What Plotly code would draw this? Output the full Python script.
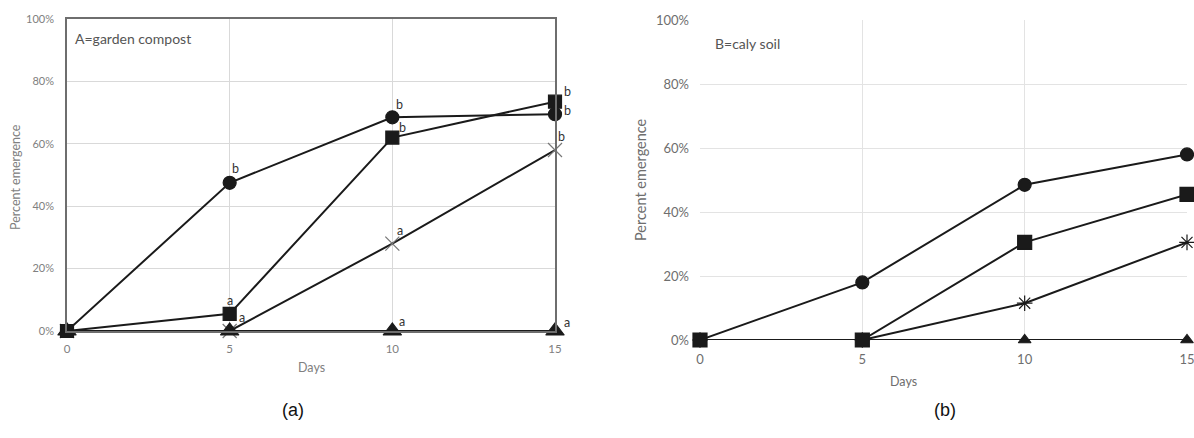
import plotly.graph_objects as go

days = [0, 5, 10, 15]
y_ticks = [0, 0.2, 0.4, 0.6, 0.8, 1.0]
y_tick_labels = ["0%", "20%", "40%", "60%", "80%", "100%"]
x_ticks = [0, 5, 10, 15]

# Panel A = garden compost
a_circle = [0.0, 0.475, 0.685, 0.695]
a_square = [0.0, 0.055, 0.62, 0.735]
a_cross = [0.0, 0.0, 0.28, 0.58]
a_triangle = [0.0, 0.0, 0.0, 0.0]

# significance letters for panel A, attached to the data point they label
a_letters_x = [5, 10, 15, 15, 10, 5, 5, 10, 15, 10, 15]
a_letters_y = [0.475, 0.685, 0.695, 0.735, 0.62, 0.055, 0.0, 0.28, 0.58, 0.0, 0.0]
a_letters = ["b", "b", "b", "b", "b", "a", "a", "a", "b", "a", "a"]

# Panel B = caly soil
b_circle = [0.0, 0.18, 0.485, 0.58]
b_square = [0.0, 0.0, 0.305, 0.455]
b_star = [0.0, 0.0, 0.115, 0.305]
b_triangle = [0.0, 0.0, 0.0, 0.0]

LINE = "#1a1a1a"
FONT = "Lato"
W, H = 1194, 438

# pixel offsets of each letter from its point
letter_dx = [6, 7, 12, 12, 10, 0, 12, 8, 6, 10, 12]
letter_dy = [14, 13, 4, 10, 10, 13, 14, 13, 14, 10, 9]

fig = go.Figure()

def add(xa, ya, ys, symbol, size, mcolor=LINE, lw=2):
    fig.add_trace(go.Scatter(
        x=days, y=ys, xaxis=xa, yaxis=ya, mode="lines+markers",
        line=dict(color=LINE, width=lw),
        marker=dict(symbol=symbol, size=size, color=mcolor,
                    line=dict(color=mcolor, width=1.2)),
        cliponaxis=False, showlegend=False))

# panel A
add("x", "y", a_cross, "x-thin-open", 14, mcolor="#777777")
add("x", "y", a_circle, "circle", 13)
add("x", "y", a_square, "square", 13)
add("x", "y", a_triangle, "triangle-up", 16)

# panel B
add("x2", "y2", b_triangle, "triangle-up", 11)
add("x2", "y2", b_star, "asterisk-open", 13)
add("x2", "y2", b_circle, "circle", 13)
add("x2", "y2", b_square, "square", 14)

annotations = []
for lx, ly, t, dx, dy in zip(a_letters_x, a_letters_y, a_letters, letter_dx, letter_dy):
    annotations.append(dict(x=lx, y=ly, xref="x", yref="y", text=t, showarrow=False,
                            xshift=dx, yshift=dy,
                            font=dict(family=FONT, size=12.5, color="#333333")))

def ptext(px, py, text, size, color, family=FONT, angle=0, xanchor="center"):
    annotations.append(dict(x=px / W, y=1 - py / H, xref="paper", yref="paper", text=text,
                            showarrow=False, textangle=angle, xanchor=xanchor,
                            yanchor="middle", font=dict(family=family, size=size, color=color)))

ptext(73, 38, "A=garden compost", 14, "#555555", xanchor="left")
ptext(713, 43, "B=caly soil", 14, "#555555", xanchor="left")
ptext(15, 177, "Percent emergence", 12.5, "#808080", angle=-90)
ptext(311, 367, "Days", 12.5, "#808080")
ptext(640, 180, "Percent emergence", 14.5, "#6e6e6e", angle=-90)
ptext(903, 381, "Days", 12.5, "#6e6e6e")
ptext(293, 410, "(a)", 18, "#111111", family="Liberation Sans")
ptext(945, 410, "(b)", 18, "#111111", family="Liberation Sans")

fig.update_layout(
    width=W, height=H,
    margin=dict(l=0, r=0, t=0, b=0),
    paper_bgcolor="white", plot_bgcolor="white",
    annotations=annotations,
    xaxis=dict(domain=[67 / W, 555 / W], range=[0, 15], tickvals=x_ticks,
               showgrid=True, gridcolor="#d9d9d9", gridwidth=1, zeroline=False,
               showline=True, mirror=True, linecolor="#6e6e6e", linewidth=1.5,
               ticks="", ticklabelstandoff=6, automargin=False,
               ticklabeloverflow="allow",
               tickfont=dict(family=FONT, size=11.5, color="#808080")),
    yaxis=dict(domain=[1 - 331 / H, 1 - 19 / H], range=[0, 1], tickvals=y_ticks,
               ticktext=y_tick_labels, showgrid=True, gridcolor="#d9d9d9", zeroline=False,
               showline=True, mirror=True, linecolor="#6e6e6e", linewidth=1.5,
               ticks="", ticklabelstandoff=9, automargin=False,
               ticklabeloverflow="allow",
               tickfont=dict(family=FONT, size=11, color="#808080")),
    xaxis2=dict(domain=[700 / W, 1187 / W], range=[0, 15], tickvals=x_ticks,
                anchor="y2", showgrid=True, gridcolor="#e3e3e3", zeroline=False,
                showline=False, ticks="", ticklabelstandoff=10, automargin=False,
                ticklabeloverflow="allow",
                tickfont=dict(family=FONT, size=13, color="#6e6e6e")),
    yaxis2=dict(domain=[1 - 340 / H, 1 - 20 / H], range=[0, 1], tickvals=y_ticks,
                ticktext=y_tick_labels, anchor="x2", showgrid=True, gridcolor="#e3e3e3",
                zeroline=False, showline=False, ticks="", ticklabelstandoff=10,
                automargin=False, ticklabeloverflow="allow",
                tickfont=dict(family=FONT, size=13, color="#6e6e6e")),
)

fig.write_html("out.html", config={"displayModeBar": False},
               post_script="document.body.style.margin='0';document.body.style.padding='0';")
